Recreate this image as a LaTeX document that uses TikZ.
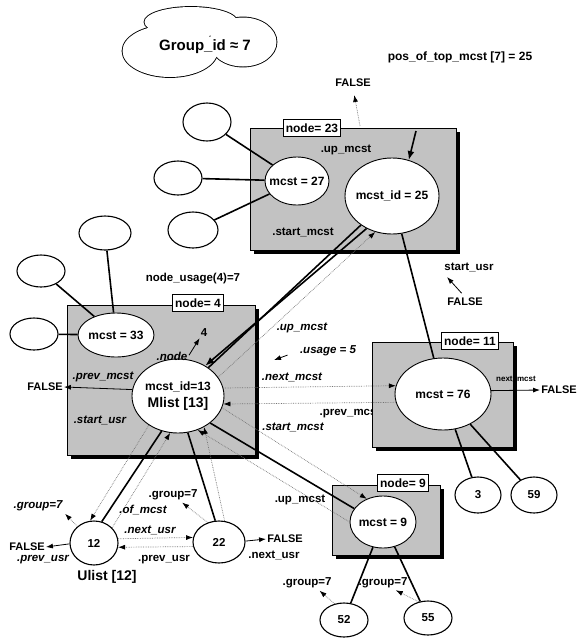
\documentclass[tikz,border=0pt]{standalone}
\usepackage{fontspec}
\setmainfont{Liberation Sans}
\usetikzlibrary{
  arrows.meta,
  shapes.geometric,
  shadows
}
\newcommand{\slim}[1]{\makebox[0pt]{#1}}
\tikzset{
  nodebox/.style={draw=black,fill=black!24,line width=0.6pt,inner sep=0pt,drop shadow={shadow xshift=3.5pt,shadow yshift=-3.5pt,fill=black,opacity=1}},
  boxlabel/.style={draw=black,fill=white,line width=0.8pt,inner sep=2.5pt,minimum height=17pt,font=\bfseries\fontsize{12}{14}\selectfont},
  mcstnode/.style={ellipse,draw=black,fill=white,line width=0.9pt,inner sep=0pt,font=\bfseries\fontsize{12}{14}\selectfont},
  leafnode/.style={ellipse,draw=black,fill=white,line width=1.1pt,inner sep=0pt,font=\bfseries\fontsize{11.5}{13}\selectfont},
  fieldlabel/.style={font=\bfseries\itshape\fontsize{11.5}{13}\selectfont,inner sep=1pt},
  plainlabel/.style={font=\bfseries\fontsize{11.5}{13}\selectfont,inner sep=1pt},
  falsenode/.style={font=\bfseries\fontsize{11}{13}\selectfont,inner sep=1pt},
  treeline/.style={line width=1.6pt,draw=black},
  ptrarrow/.style={-{Latex[length=7pt,width=5pt,color=black]},densely dotted,line width=0.7pt,draw=black!55},
  solidarrow/.style={-{Latex[length=7pt,width=5pt]},line width=0.8pt,draw=black}
}

\begin{document}
\begin{tikzpicture}[x=1pt,y=-1pt]
\useasboundingbox (0,0) rectangle (577,638);

% group cloud
\foreach \cx/\cy/\rx/\ry in {191/22/46.5/15,243/42/33.5/24.5,170/51/47.5/26}
  \draw[line width=1.8pt] (\cx,\cy) ellipse [x radius=\rx,y radius=\ry];
\foreach \cx/\cy/\rx/\ry in {191/22/46.5/15,243/42/33.5/24.5,170/51/47.5/26}
  \fill[white] (\cx,\cy) ellipse [x radius=\rx,y radius=\ry];
\node[font=\bfseries\fontsize{15}{17}\selectfont] (grp) at (205,47) {Group\_id ≈ 7};
\node[font=\bfseries\fontsize{12}{14}\selectfont] (posTop) at (460,57) {pos\_of\_top\_mcst [7] = 25};

% node boxes
\node[nodebox,minimum width=206,minimum height=122] (box23) at (353,189) {};
\node[nodebox,minimum width=188,minimum height=150] (box4) at (161,380) {};
\node[plainlabel] (prevMcs) at (350,413) {.prev\_mcst};
\node[nodebox,minimum width=141,minimum height=105] (box11) at (442.5,394.5) {};
\node[nodebox,minimum width=108,minimum height=70] (box9) at (386,520) {};

\node[boxlabel] (lab23) at (312,128) {node= 23};
\node[boxlabel] (lab4) at (198,303) {node= 4};
\node[boxlabel] (lab11) at (470,341) {node= 11};
\node[boxlabel] (lab9) at (403,483) {node= 9};

% mcst ellipses
\node[mcstnode,minimum width=64,minimum height=48] (mcst27) at (297,181) {\slim{mcst = 27}};
\node[mcstnode,minimum width=94,minimum height=76] (mcst25) at (392,196) {\slim{mcst\_id = 25}};
\node[mcstnode,minimum width=76,minimum height=44] (mcst33) at (116,335) {\slim{mcst = 33}};
\node[mcstnode,minimum width=92,minimum height=74] (mlist) at (178,396)
  {\slim{\shortstack{mcst\_id=13\\[3pt]{\fontsize{14}{16}\selectfont Mlist [13]}}}};
\node[mcstnode,minimum width=96,minimum height=72] (mcst76) at (443,394) {\slim{mcst = 76}};
\node[mcstnode,minimum width=66,minimum height=52] (mcst9) at (383,522) {\slim{mcst = 9}};

% leaves
\node[leafnode,minimum width=48,minimum height=38] (l27a) at (207,122) {};
\node[leafnode,minimum width=48,minimum height=34] (l27b) at (178,178) {};
\node[leafnode,minimum width=50,minimum height=36] (l27c) at (193,230) {};
\node[leafnode,minimum width=52,minimum height=34] (l33a) at (105,233) {};
\node[leafnode,minimum width=48,minimum height=32] (l33b) at (41,271) {};
\node[leafnode,minimum width=48,minimum height=32] (l33c) at (34,334) {};
\node[leafnode,minimum width=46,minimum height=36] (c3) at (478,495) {3};
\node[leafnode,minimum width=46,minimum height=36] (c59) at (534,495) {59};
\node[leafnode,minimum width=48,minimum height=34] (c52) at (344,620) {52};
\node[leafnode,minimum width=48,minimum height=34] (c55) at (428,618) {55};
\node[leafnode,minimum width=48,minimum height=44] (usr12) at (94,543) {12};
\node[leafnode,minimum width=52,minimum height=42] (usr22) at (219,542) {22};

% tree links
\foreach \a/\b in {l27a/mcst27,l27b/mcst27,l27c/mcst27,l33a/mcst33,l33b/mcst33,l33c/mcst33,
  mcst76/c3,mcst76/c59,mcst9/c52,mcst9/c55,mcst25/mcst76,mcst25/mlist}
  \draw[treeline] (\a) -- (\b);
\draw[treeline,-{Latex[length=9pt,width=7pt]}] (mcst25.232) -- (mlist.48);
\draw[treeline] (mlist.320) -- (mcst9.155);
\draw[treeline] (mlist.245) -- (usr12.70);
\draw[treeline] (mlist.285) -- (usr22.100);
\coordinate (topptr) at (416,131);
\draw[treeline,-{Latex[length=9pt,width=7pt]}] (topptr) -- (mcst25.65);

% pointers
\draw[ptrarrow] (mlist.25) -- (mcst25.245);
\draw[ptrarrow] (mlist.10) -- (mcst76.170);
\draw[ptrarrow] (mcst76.190) -- (mlist.350);
\draw[ptrarrow] (mlist.345) -- (mcst9.125);
\draw[ptrarrow] (mcst9.west) -- (mlist.300);
\draw[ptrarrow] (mlist.225) -- (usr12.100);
\draw[ptrarrow] (usr12.40) -- (mlist.258);
\draw[ptrarrow] (usr22.75) -- (mlist.310);
\draw[ptrarrow] (usr12.10) -- (usr22.170);
\draw[ptrarrow] (usr22.190) -- (usr12.350);

% text labels
\node[falsenode] (falseTop) at (353,83) {FALSE};
\node[plainlabel] (upA) at (346,150) {.up\_mcst};
\node[plainlabel] (startA) at (303,232) {.start\_mcst};
\node[plainlabel] (startUsr) at (469,267) {start\_usr};
\node[falsenode] (falseB) at (465,302) {FALSE};
\node[plainlabel] (usageFour) at (193,279) {node\_usage(4)=7};
\node[plainlabel] (four) at (204,333) {4};
\node[fieldlabel] (nodeFour) at (172,356) {.node};
\node[fieldlabel] (prevMcst) at (103,377) {.prev\_mcst};
\node[falsenode] (falseA) at (45,387) {FALSE};
\node[fieldlabel] (startUsrB) at (100,420) {.start\_usr};
\node[fieldlabel] (upB) at (302,328) {.up\_mcst};
\node[fieldlabel] (usageFive) at (328,351) {.usage = 5};
\node[fieldlabel] (nextMcst) at (292,377) {.next\_mcst};
\node[fieldlabel] (startMcst) at (293,427) {.start\_mcst};
\node[font=\bfseries\fontsize{8}{9}\selectfont,inner sep=0pt] (nextMcstB) at (516,379) {next\_mcst};
\node[falsenode] (falseC) at (559,390) {FALSE};
\node[plainlabel] (upC) at (300,500) {.up\_mcst};
\node[fieldlabel] (gA) at (38,506) {.group=7};
\node[fieldlabel] (ofMcst) at (143,510) {.of\_mcst};
\node[plainlabel] (gB) at (173,495) {.group=7};
\node[fieldlabel] (nextUsrA) at (150,530) {.next\_usr};
\node[plainlabel] (prevUsrA) at (164,560) {.prev\_usr};
\node[falsenode] (falseD) at (27,547) {FALSE};
\node[fieldlabel] (prevUsrB) at (43,560) {.prev\_usr};
\node[font=\bfseries\fontsize{14}{16}\selectfont] (ulist) at (107,577) {Ulist [12]};
\node[falsenode] (falseE) at (285,539) {FALSE};
\node[plainlabel] (nextUsrB) at (274,555) {.next\_usr};
\node[plainlabel] (gC) at (307,583) {.group=7};
\node[plainlabel] (gD) at (383,583) {.group=7};

% arrows to FALSE, node number and .group
\coordinate (ftop) at (360,126);
\draw[ptrarrow,shorten >=7pt] (ftop) -- (falseTop.south);
\coordinate (sutip) at (447,277);
\draw[solidarrow,shorten <=5pt] (falseB.north) -- (sutip);
\coordinate (usetip) at (274,360);
\draw[solidarrow,shorten <=12pt] (usageFive.west) -- (usetip);
\draw[solidarrow,shorten <=1pt] (nodeFour.east) -- (four.south west);
\draw[solidarrow] (mlist.172) -- (falseA.east);
\draw[solidarrow] (mcst76.4) -- (falseC.west);
\draw[solidarrow] (usr12.182) -- (falseD.east);
\draw[solidarrow] (usr22.2) -- (falseE.west);
\draw[ptrarrow,shorten >=2pt] (usr12.135) -- (gA.south east);
\draw[ptrarrow,shorten >=2pt] (usr22.120) -- (gB.-40);
\draw[ptrarrow,shorten >=2pt] (c52.120) -- (gC.-30);
\draw[ptrarrow,shorten >=2pt] (c55.120) -- (gD.-30);
\end{tikzpicture}
\end{document}
